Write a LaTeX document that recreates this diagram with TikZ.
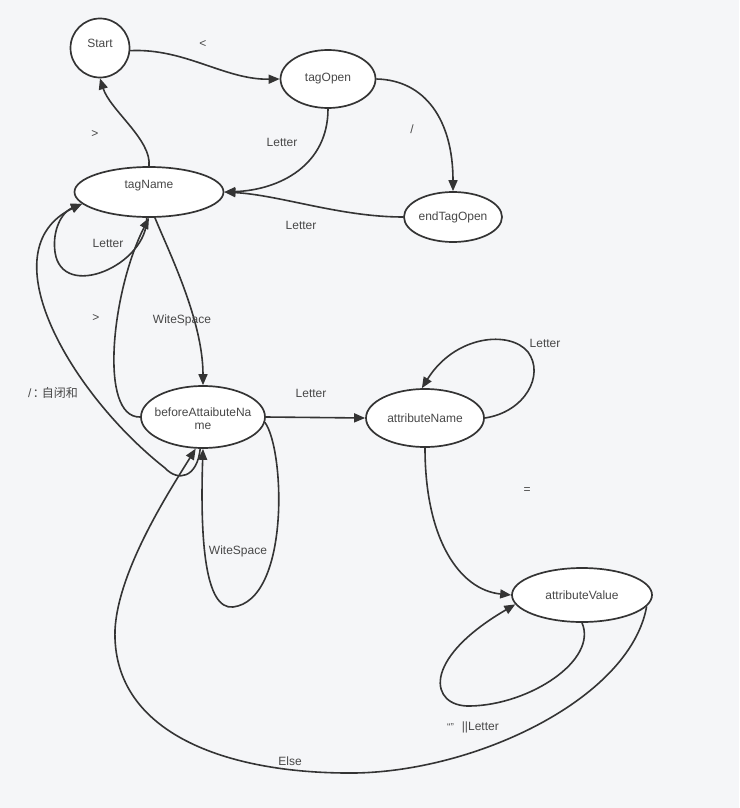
\documentclass[tikz,border=0pt]{standalone}
\usepackage{fontspec}
\setmainfont{Liberation Sans}
\newfontfamily\cjk{Noto Sans CJK SC}
\usetikzlibrary{shapes.geometric,arrows.meta}

\definecolor{bgcol}{RGB}{245,246,248}
\definecolor{linecol}{RGB}{52,52,52}
\definecolor{textcol}{RGB}{72,72,72}

\tikzset{
  state/.style={ellipse,draw=linecol,line width=1.7pt,fill=white,inner sep=0pt},
  statetext/.style={text=textcol,font=\fontsize{12}{13}\selectfont,align=center,inner sep=0pt},
  trans/.style={draw=linecol,line width=1.6pt,-{Triangle[length=11pt,width=9pt]}},
  lbl/.style={text=textcol,font=\fontsize{12}{13}\selectfont,inner sep=0pt}
}

\begin{document}
\begin{tikzpicture}[x=1pt,y=-1pt]
  % canvas
  \fill[bgcol] (0,0) rectangle (739,808);
  \useasboundingbox (0,0) rectangle (739,808);

  % states (fixed outlines, text placed as centred labels)
  \node[state,circle,minimum size=59pt,
        label={[statetext,yshift=5pt]center:Start}] (start) at (100,48) {};
  \node[state,minimum width=95pt,minimum height=58pt,
        label={[statetext]center:tagOpen}] (tagOpen) at (328,79) {};
  \node[state,minimum width=98pt,minimum height=50pt,
        label={[statetext]center:endTagOpen}] (endTagOpen) at (453,217) {};
  \node[state,minimum width=149pt,minimum height=50pt,
        label={[statetext,yshift=6pt]center:tagName}] (tagName) at (149,192) {};
  \node[state,minimum width=124pt,minimum height=62pt,
        label={[statetext,yshift=-2pt]center:beforeAttaibuteNa\\me}] (bAN) at (203,417) {};
  \node[state,minimum width=118pt,minimum height=58pt,
        label={[statetext]center:attributeName}] (aN) at (425,418) {};
  \node[state,minimum width=140pt,minimum height=54pt,
        label={[statetext]center:attributeValue}] (aV) at (582,595) {};

  % transitions
  \draw[trans] (start.-5) .. controls (185,48) and (225,80) .. (tagOpen.west);
  \draw[trans] (tagOpen.east) .. controls (425,80) and (453,120) .. (endTagOpen.north);
  \draw[trans] (tagOpen.south) .. controls (328,165) and (280,190) .. (tagName.east);
  \draw[trans] (endTagOpen.west) .. controls (340,217) and (280,195) .. (tagName.east);
  \draw[trans] (tagName.north) .. controls (152,140) and (110,110) .. (start.south);

  % tagName: Letter loop
  \draw[trans] (tagName.265) .. controls (148,265) and (62,302) .. (55,252)
                .. controls (52,230) and (62,212) .. (tagName.190);
  % tagName -> beforeAttaibuteName (WiteSpace) and back (>)
  \draw[trans] (tagName.283) .. controls (168,250) and (203,320) .. (bAN.north);
  \draw[trans] (bAN.west) .. controls (98,418) and (112,290) .. (tagName.south);
  % beforeAttaibuteName -> tagName (/ self closing)
  \draw[trans] (bAN.265) .. controls (197,478) and (178,482) .. (165,468)
                .. controls (72,395) and (-14,250) .. (tagName.190);

  % beforeAttaibuteName: WiteSpace loop
  \draw[trans] (bAN.-5) .. controls (285,450) and (290,600) .. (233,607)
                .. controls (205,610) and (200,540) .. (bAN.south);
  \draw[trans] (bAN.east) -- (aN.west);

  % attributeName: Letter loop
  \draw[trans] (aN.east) .. controls (525,412) and (545,375) .. (528,352)
                .. controls (510,330) and (455,335) .. (aN.96);
  \draw[trans] (aN.south) .. controls (425,540) and (460,590) .. (aV.west);

  % attributeValue: quote / Letter loop
  \draw[trans] (aV.south) .. controls (598,660) and (530,705) .. (470,706)
                .. controls (430,707) and (420,660) .. (aV.188);
  % attributeValue -> beforeAttaibuteName (Else)
  \draw[trans] (aV.-10) .. controls (630,700) and (470,775) .. (345,773)
                .. controls (220,772) and (112,730) .. (115,630)
                .. controls (118,570) and (170,490) .. (bAN.257);

  % labels
  \node[lbl] (l1) at (203,44) {<};
  \node[lbl] (l2) at (412,129) {/};
  \node[lbl] (l3) at (282,142) {Letter};
  \node[lbl] (l4) at (301,225) {Letter};
  \node[lbl] (l5) at (95,134) {>};
  \node[lbl] (l6) at (108,243) {Letter};
  \node[lbl] (l7) at (96,318) {>};
  \node[lbl] (l8) at (182,320) {WiteSpace};
  \node[lbl] (l9) at (53,393) {/ {\cjk\hspace{-2pt}：\hspace{-3pt}自闭和}};
  \node[lbl] (l10) at (311,393) {Letter};
  \node[lbl] (l11) at (545,343) {Letter};
  \node[lbl] (l12) at (527,491) {=};
  \node[lbl] (l13) at (238,551) {WiteSpace};
  \node[lbl] (l14) at (473,727) {{\fontsize{10}{10}\selectfont “”}\hspace{8pt}||Letter};
  \node[lbl] (l15) at (290,761) {Else};
\end{tikzpicture}
\end{document}
